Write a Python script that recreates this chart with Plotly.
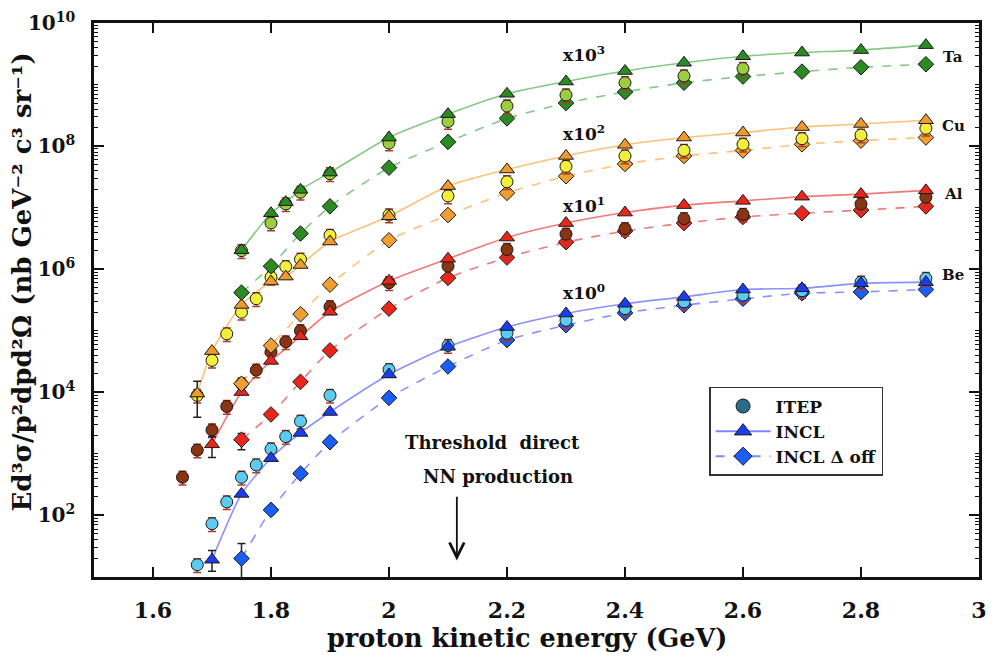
import plotly.graph_objects as go

# ---------------- data (raw cross sections, nb GeV^-2 c^3 sr^-1) ----------------
E_itep_Be = [1.675, 1.7, 1.725, 1.75, 1.775, 1.8, 1.825, 1.85, 1.9, 2.0, 2.1, 2.2, 2.3, 2.4, 2.5, 2.6, 2.7, 2.8, 2.91]
itep_Be = [1.58e1, 7.33e1, 1.66e2, 4.17e2, 6.61e2, 1.20e3, 1.91e3, 3.39e3, 8.91e3, 2.34e4, 5.75e4, 9.12e4,
           1.48e5, 2.29e5, 2.95e5, 3.80e5, 4.47e5, 6.17e5, 7.08e5]
E_itep_Al = [1.65, 1.675, 1.7, 1.725, 1.75, 1.775, 1.8, 1.825, 1.85, 1.9, 2.0, 2.1, 2.2, 2.3, 2.4, 2.5, 2.6, 2.8, 2.91]
itep_Al = [4.17e1, 1.15e2, 2.45e2, 5.89e2, 1.38e3, 2.29e3, 4.52e3, 6.61e3, 1.00e4, 2.45e4, 6.03e4, 1.12e5,
           2.09e5, 3.72e5, 4.57e5, 6.61e5, 7.76e5, 1.15e6, 1.48e6]
E_itep_Cu = [1.675, 1.7, 1.725, 1.75, 1.775, 1.8, 1.825, 1.85, 1.9, 2.0, 2.1, 2.2, 2.3, 2.4, 2.5, 2.6, 2.7, 2.8, 2.91]
itep_Cu = [8.91e1, 3.31e2, 8.91e2, 2.00e3, 3.31e3, 7.41e3, 1.10e4, 1.45e4, 3.55e4, 7.59e4, 1.55e5, 2.63e5,
           4.68e5, 6.92e5, 8.51e5, 1.07e6, 1.32e6, 1.51e6, 1.95e6]
E_itep_Ta = [1.75, 1.8, 1.825, 1.85, 1.9, 2.0, 2.1, 2.2, 2.3, 2.4, 2.5, 2.6]
itep_Ta = [2.00e3, 5.62e3, 1.15e4, 1.78e4, 3.55e4, 1.12e5, 2.51e5, 4.47e5, 6.76e5, 1.07e6, 1.38e6, 1.82e6]

E_incl = [1.7, 1.75, 1.8, 1.85, 1.9, 2.0, 2.1, 2.2, 2.3, 2.4, 2.5, 2.6, 2.7, 2.8, 2.91]
E_incl_Cu = [1.675, 1.7, 1.75, 1.8, 1.825, 1.85, 1.9, 2.0, 2.1, 2.2, 2.3, 2.4, 2.5, 2.6, 2.7, 2.8, 2.91]
E_incl_Ta = [1.75, 1.8, 1.825, 1.85, 1.9, 2.0, 2.1, 2.2, 2.3, 2.4, 2.5, 2.6, 2.7, 2.8, 2.91]
incl_Be = [1.91e1, 2.24e2, 8.51e2, 2.19e3, 4.79e3, 1.95e4, 5.50e4, 1.15e5, 1.91e5, 2.75e5, 3.55e5, 4.68e5,
           4.90e5, 5.89e5, 6.17e5]
incl_Al = [1.43e2, 1.01e3, 3.24e3, 8.13e3, 2.04e4, 6.46e4, 1.48e5, 3.27e5, 5.62e5, 8.32e5, 1.10e6, 1.29e6,
           1.51e6, 1.66e6, 1.91e6]
incl_Cu = [9.55e1, 4.68e2, 2.63e3, 6.31e3, 7.59e3, 1.17e4, 2.82e4, 7.24e4, 2.24e5, 4.17e5, 6.92e5, 1.05e6,
           1.38e6, 1.66e6, 2.04e6, 2.29e6, 2.63e6]
incl_Ta = [2.04e3, 8.13e3, 1.23e4, 1.95e4, 3.72e4, 1.38e5, 3.31e5, 7.08e5, 1.12e6, 1.66e6, 2.26e6, 2.88e6,
           3.31e6, 3.63e6, 4.37e6]

E_doff = [1.75, 1.8, 1.85, 1.9, 2.0, 2.1, 2.2, 2.3, 2.4, 2.5, 2.6, 2.7, 2.8, 2.91]
doff_Be = [2.00e1, 1.23e2, 4.79e2, 1.55e3, 8.13e3, 2.63e4, 7.08e4, 1.23e5, 1.95e5, 2.60e5, 3.31e5, 4.07e5, 4.27e5, 4.68e5]
doff_Al = [1.70e2, 4.37e2, 1.48e3, 4.79e3, 2.29e4, 7.24e4, 1.55e5, 2.75e5, 4.17e5, 5.62e5, 7.08e5, 8.13e5, 9.12e5, 1.05e6]
doff_Cu = [1.38e2, 5.75e2, 1.86e3, 5.62e3, 2.95e4, 7.59e4, 1.74e5, 3.24e5, 5.13e5, 6.92e5, 8.51e5, 1.07e6, 1.23e6, 1.38e6]
doff_Ta = [4.17e2, 1.12e3, 3.80e3, 1.05e4, 4.47e4, 1.17e5, 2.82e5, 5.01e5, 7.59e5, 1.07e6, 1.35e6, 1.62e6, 1.91e6, 2.14e6]

# model statistical errors (only the lowest-energy points are significant)
incl_Be_err_hi = [7.8] + [0] * 14
incl_Be_err_lo = [6.7] + [0] * 14
incl_Al_err_hi = [48] + [0] * 14
incl_Al_err_lo = [56] + [0] * 14
incl_Cu_err_hi = [56] + [0] * 16
incl_Cu_err_lo = [56] + [0] * 16
doff_Be_err_hi = [15] + [0] * 13
doff_Be_err_lo = [19] + [0] * 13
doff_Al_err_hi = [44] + [0] * 13
doff_Al_err_lo = [53] + [0] * 13

itep_rel_err_pct = 25

scales = {"Be": 1, "Al": 10, "Cu": 100, "Ta": 1000}
scale_labels = {"Be": "x10<sup>0</sup>", "Al": "x10<sup>1</sup>", "Cu": "x10<sup>2</sup>", "Ta": "x10<sup>3</sup>"}

x_ticks = [1.6, 1.8, 2.0, 2.2, 2.4, 2.6, 2.8, 3.0]
x_ticktext = ["1.6", "1.8", "2", "2.2", "2.4", "2.6", "2.8", "3"]
y_ticks = [1e2, 1e4, 1e6, 1e8, 1e10]
y_ticktext = ["10<sup>2</sup>", "10<sup>4</sup>", "10<sup>6</sup>", "10<sup>8</sup>", "10<sup>10</sup>"]
y_decades = [1e1, 1e2, 1e3, 1e4, 1e5, 1e6, 1e7, 1e8, 1e9, 1e10]

threshold_E = 2.115

# ---------------- styles ----------------
FONT = "DejaVu Serif"
style = {
    "Be": dict(itep="#5ccbf0", incl="#1c3cf0", doff="#1a5ef5", line="#8a92ff"),
    "Al": dict(itep="#8a3412", incl="#e8261c", doff="#e8261c", line="#f07a78"),
    "Cu": dict(itep="#f2ee3a", incl="#f09a2c", doff="#f0a032", line="#fdc27a"),
    "Ta": dict(itep="#9ccd3c", incl="#2c8a22", doff="#2c8a22", line="#86c886"),
}

series = {
    "Be": dict(Ei=E_itep_Be, i=itep_Be, Em=E_incl, m=incl_Be, Ed=E_doff, d=doff_Be,
               mh=incl_Be_err_hi, ml=incl_Be_err_lo, dh=doff_Be_err_hi, dl=doff_Be_err_lo),
    "Al": dict(Ei=E_itep_Al, i=itep_Al, Em=E_incl, m=incl_Al, Ed=E_doff, d=doff_Al,
               mh=incl_Al_err_hi, ml=incl_Al_err_lo, dh=doff_Al_err_hi, dl=doff_Al_err_lo),
    "Cu": dict(Ei=E_itep_Cu, i=itep_Cu, Em=E_incl_Cu, m=incl_Cu, Ed=E_doff, d=doff_Cu,
               mh=incl_Cu_err_hi, ml=incl_Cu_err_lo, dh=None, dl=None),
    "Ta": dict(Ei=E_itep_Ta, i=itep_Ta, Em=E_incl_Ta, m=incl_Ta, Ed=E_doff, d=doff_Ta,
               mh=None, ml=None, dh=None, dl=None),
}

fig = go.Figure()
outline = dict(color="#1a1a1a", width=1)

def err(hi, lo, f):
    if hi is None:
        return None
    return dict(type="data", symmetric=False, array=[v * f for v in hi], arrayminus=[v * f for v in lo],
                color="#222222", thickness=1.5, width=4)

# lines first
for t in ["Be", "Al", "Cu", "Ta"]:
    s, st, f = series[t], style[t], scales[t]
    fig.add_trace(go.Scatter(x=s["Ed"], y=[v * f for v in s["d"]], mode="lines", showlegend=False,
                             line=dict(color=st["line"], width=1.6, dash="dash", shape="spline", smoothing=0.6),
                             hoverinfo="skip"))
    fig.add_trace(go.Scatter(x=s["Em"], y=[v * f for v in s["m"]], mode="lines", showlegend=False,
                             line=dict(color=st["line"], width=1.6, shape="spline", smoothing=0.6),
                             hoverinfo="skip"))

for t in ["Be", "Al", "Cu", "Ta"]:
    s, st, f = series[t], style[t], scales[t]
    fig.add_trace(go.Scatter(x=s["Ed"], y=[v * f for v in s["d"]], mode="markers", showlegend=False,
                             marker=dict(symbol="diamond", size=12, color=st["doff"], line=outline),
                             error_y=err(s["dh"], s["dl"], f), name=t + " INCL Δ off"))
    fig.add_trace(go.Scatter(x=s["Ei"], y=[v * f for v in s["i"]], mode="markers", showlegend=False,
                             marker=dict(symbol="circle", size=12, color=st["itep"], line=outline),
                             error_y=dict(type="percent", value=itep_rel_err_pct, color="#b03a2a",
                                          thickness=1.5, width=4),
                             name=t + " ITEP"))
    fig.add_trace(go.Scatter(x=s["Em"], y=[v * f for v in s["m"]], mode="markers", showlegend=False,
                             marker=dict(symbol="triangle-up", size=13, color=st["incl"], line=outline),
                             error_y=err(s["mh"], s["ml"], f), name=t + " INCL"))

# legend entries
fig.add_trace(go.Scatter(x=[None], y=[None], mode="markers", name="ITEP",
                         marker=dict(symbol="circle", size=14, color="#2c6c8a", line=outline)))
fig.add_trace(go.Scatter(x=[None], y=[None], mode="lines+markers", name="INCL",
                         line=dict(color="#7f89ff", width=2),
                         marker=dict(symbol="triangle-up", size=15, color="#1c3cf0", line=outline)))
fig.add_trace(go.Scatter(x=[None], y=[None], mode="lines+markers", name="INCL Δ off",
                         line=dict(color="#7f89ff", width=2, dash="dash"),
                         marker=dict(symbol="diamond", size=14, color="#1a5ef5", line=outline)))

ann = []
scale_pos = {"Ta": 9.50, "Cu": 8.21, "Al": 7.04, "Be": 5.63}
name_pos = {"Ta": 9.45, "Cu": 8.33, "Al": 7.22, "Be": 5.90}
for t in ["Be", "Al", "Cu", "Ta"]:
    ann.append(dict(x=2.33, y=scale_pos[t], xref="x", yref="y", text=scale_labels[t], showarrow=False,
                    font=dict(family=FONT, size=17, color="#111", weight="bold")))
    ann.append(dict(x=2.956, y=name_pos[t], xref="x", yref="y", text=t, showarrow=False,
                    font=dict(family=FONT, size=15, color="#111", weight="bold")))

ann.append(dict(x=2.175, y=3.19, xref="x", yref="y", text="Threshold  direct", showarrow=False,
                font=dict(family=FONT, size=18, color="#111", weight="bold")))
ann.append(dict(x=2.184, y=2.63, xref="x", yref="y", text="NN production", showarrow=False,
                font=dict(family=FONT, size=18, color="#111", weight="bold")))
ann.append(dict(x=threshold_E, y=1.27, ax=threshold_E, ay=2.33, xref="x", yref="y", axref="x", ayref="y",
                text="", showarrow=True, arrowhead=5, arrowsize=1.6, arrowwidth=1.8, arrowcolor="#111"))

ann.append(dict(x=0.489, y=-0.11, xref="paper", yref="paper", text="proton kinetic energy (GeV)",
                showarrow=False, yanchor="middle",
                font=dict(family=FONT, size=25.5, color="#111", weight="bold")))
ann.append(dict(x=-0.081, y=0.532, xref="paper", yref="paper", textangle=-90,
                text="Ed³σ/p²dpd²Ω (nb GeV⁻² c³ sr⁻¹)", showarrow=False, xanchor="center", yanchor="middle",
                font=dict(family=FONT, size=26, color="#111", weight="bold")))

# the page body has an 8px default margin: compensate so the plot frame lands where the reference has it
fig.update_layout(
    width=992, height=658,
    margin=dict(l=86, r=21, t=15, b=89, autoexpand=False),
    paper_bgcolor="white", plot_bgcolor="white",
    showlegend=True,
    legend=dict(x=0.695, y=0.343, xanchor="left", yanchor="top", bgcolor="white",
                bordercolor="#333", borderwidth=1.5,
                font=dict(family=FONT, size=17, color="#111", weight="bold"),
                itemwidth=55, tracegroupgap=0),
    annotations=ann,
    xaxis=dict(range=[1.5, 3.0], tickvals=x_ticks, ticktext=x_ticktext, ticks="inside", ticklen=10,
               tickwidth=2, tickcolor="#111", showline=True, linewidth=2.5, linecolor="#111",
               mirror="ticks", showgrid=False, zeroline=False, ticklabelstandoff=12, automargin=False,
               tickfont=dict(family=FONT, size=22, color="#111", weight="bold")),
    xaxis2=dict(range=[1.5, 3.0], overlaying="x", anchor="y", side="bottom", tickvals=x_ticks,
                ticks="outside", ticklen=10, tickwidth=2, tickcolor="#111", showticklabels=False,
                showline=False, showgrid=False, zeroline=False, automargin=False),
    yaxis=dict(type="log", range=[1, 10], tickvals=y_ticks, ticktext=y_ticktext, ticks="inside", ticklen=10,
               tickwidth=2, tickcolor="#111", showline=True, linewidth=2.5, linecolor="#111",
               mirror="ticks", showgrid=False, zeroline=False, ticklabelstandoff=12,
               ticklabeloverflow="allow", automargin=False,
               minor=dict(ticks="inside", ticklen=4, tickwidth=1.2, tickcolor="#111", dtick="D1"),
               tickfont=dict(family=FONT, size=20, color="#111", weight="bold")),
    yaxis2=dict(type="log", range=[1, 10], overlaying="y", anchor="x", side="left", tickvals=y_decades,
                ticks="outside", ticklen=10, tickwidth=2, tickcolor="#111", showticklabels=False,
                showline=False, showgrid=False, zeroline=False, automargin=False),
)

fig.write_html("out.html")
